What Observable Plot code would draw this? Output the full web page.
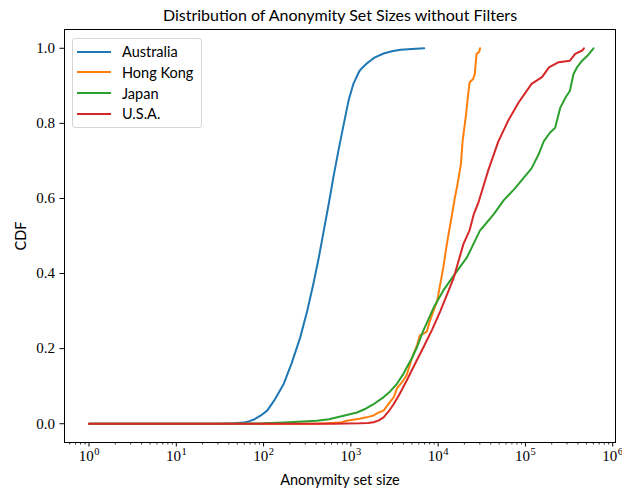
<!DOCTYPE html>
<html>
<head>
<meta charset="utf-8">
<script src="https://cdn.jsdelivr.net/npm/d3@7"></script>
<script src="https://cdn.jsdelivr.net/npm/@observablehq/plot@0.6"></script>
<style>
  html, body { margin: 0; padding: 0; background: #fff; }
  #wrap { position: relative; width: 622px; height: 490px; overflow: hidden; }
  .lbl { position: absolute; font-family: Lato, "DejaVu Sans", sans-serif; color: #000; white-space: nowrap; }
  #title { left: 340px; top: 14px; transform: translate(-50%, -50%); font-size: 16px; }
  #xlabel { left: 340px; top: 479px; transform: translate(-50%, -50%); font-size: 14.5px; }
  #ylabel { left: 20px; top: 236px; transform: translate(-50%, -50%) rotate(-90deg); font-size: 14.5px; }
  #legend { position: absolute; left: 72px; top: 38px; width: 130px; height: 90px; border: 1px solid #d5d5d5; border-radius: 3px; background: rgba(255,255,255,0.8); box-sizing: border-box; }
  .row { position: absolute; left: 0; height: 20px; display: flex; align-items: center; font-family: Lato, "DejaVu Sans", sans-serif; font-size: 14.5px; }
  .row svg { margin-left: 4px; margin-right: 11px; }
</style>
</head>
<body>
<div id="wrap">
  <div id="chart"></div>
  <div class="lbl" id="title">Distribution of Anonymity Set Sizes without Filters</div>
  <div class="lbl" id="xlabel">Anonymity set size</div>
  <div class="lbl" id="ylabel">CDF</div>
  <div id="legend"></div>
</div>
<script>
const countries = ["Australia", "Hong Kong", "Japan", "U.S.A."];
const colors = ["#1f77b4", "#ff7f0e", "#2ca02c", "#d62728"];

const australiaSize = [1, 32, 45, 59, 69, 79, 93, 110, 135, 170, 209, 263, 316, 372, 427, 490, 562, 631, 724, 832, 944, 1072, 1175, 1259, 1380, 1514, 1700, 1862, 2371, 2951, 3715, 5012, 6918];
const australiaCdf  = [0, 0, 0.001, 0.003, 0.007, 0.012, 0.022, 0.035, 0.065, 0.106, 0.16, 0.23, 0.30, 0.373, 0.44, 0.515, 0.59, 0.657, 0.73, 0.80, 0.862, 0.906, 0.926, 0.94, 0.95, 0.959, 0.968, 0.975, 0.986, 0.992, 0.996, 0.998, 1.0];

const hongKongSize = [1, 400, 760, 890, 1260, 1510, 1820, 2090, 2370, 2690, 3090, 3390, 3980, 4365, 5010, 5750, 6170, 6760, 7410, 7940, 8510, 9770, 10590, 11480, 12590, 13800, 15140, 15490, 16600, 18200, 19050, 20890, 21880, 22910, 25120, 26300, 26920, 27540, 29510, 30200];
const hongKongCdf  = [0, 0, 0.003, 0.008, 0.013, 0.017, 0.022, 0.03, 0.035, 0.052, 0.07, 0.095, 0.115, 0.13, 0.175, 0.21, 0.235, 0.24, 0.245, 0.27, 0.29, 0.328, 0.373, 0.417, 0.479, 0.532, 0.586, 0.60, 0.636, 0.69, 0.752, 0.824, 0.869, 0.909, 0.918, 0.931, 0.96, 0.985, 0.99, 1.0];

const japanSize = [1, 32, 100, 170, 282, 407, 562, 759, 1000, 1175, 1479, 1820, 2291, 2818, 3388, 3981, 4365, 5012, 5754, 6761, 8913, 11480, 15140, 21380, 30200, 31620, 43650, 56230, 75860, 117500, 141300, 162200, 190500, 218800, 251200, 288400, 323600, 354800, 389000, 446700, 512900, 555900, 602600];
const japanCdf  = [0, 0, 0.001, 0.003, 0.006, 0.008, 0.012, 0.019, 0.026, 0.03, 0.04, 0.052, 0.068, 0.086, 0.107, 0.132, 0.15, 0.175, 0.205, 0.248, 0.31, 0.355, 0.395, 0.443, 0.515, 0.52, 0.559, 0.595, 0.627, 0.68, 0.717, 0.752, 0.775, 0.788, 0.842, 0.869, 0.887, 0.931, 0.949, 0.967, 0.98, 0.99, 1.0];

const usaSize = [1, 631, 1259, 1585, 1820, 2090, 2371, 2692, 3090, 3631, 4365, 5370, 6761, 8511, 10590, 12590, 15140, 19500, 22910, 25700, 28840, 37150, 48980, 63100, 83180, 117500, 154900, 186200, 239900, 323600, 371500, 446700, 467700];
const usaCdf  = [0, 0, 0.001, 0.002, 0.004, 0.009, 0.017, 0.032, 0.052, 0.08, 0.115, 0.157, 0.203, 0.25, 0.30, 0.343, 0.39, 0.479, 0.515, 0.559, 0.588, 0.672, 0.752, 0.806, 0.855, 0.905, 0.923, 0.949, 0.963, 0.967, 0.985, 0.994, 1.0];

const xTicks = [1, 10, 100, 1000, 10000, 100000, 1000000];
const xTickExponents = ["0", "1", "2", "3", "4", "5", "6"];
const yTicks = [0, 0.2, 0.4, 0.6, 0.8, 1.0];
const yTickLabels = ["0.0", "0.2", "0.4", "0.6", "0.8", "1.0"];

const series = [
  [australiaSize, australiaCdf],
  [hongKongSize, hongKongCdf],
  [japanSize, japanCdf],
  [usaSize, usaCdf]
];
const rows = series.flatMap(([xs, ys], i) => xs.map((s, j) => ({country: countries[i], size: s, cdf: ys[j]})));

const xDomain = [Math.pow(10, -0.281), Math.pow(10, 6.032)];
const minorTicks = [];
for (let e = -1; e <= 6; e++) for (let m = 2; m <= 9; m++) {
  const v = m * Math.pow(10, e);
  if (v >= xDomain[0] && v <= xDomain[1]) minorTicks.push(v);
}
const xFmt = d => "10^" + xTickExponents[xTicks.indexOf(d)];
const yFmt = d => yTickLabels[yTicks.indexOf(d)];

const chart = Plot.plot({
  width: 622,
  height: 490,
  marginLeft: 64,
  marginRight: 7,
  marginTop: 29,
  marginBottom: 48,
  style: {fontFamily: "'Liberation Serif', 'DejaVu Serif', serif", fontSize: "15px", background: "#fff", color: "#000"},
  x: {type: "log", domain: xDomain},
  y: {domain: [-0.05, 1.05]},
  color: {domain: countries, range: colors},
  marks: [
    Plot.line(rows, {x: "size", y: "cdf", z: "country", stroke: "country", strokeWidth: 2, curve: "linear"}),
    Plot.axisX({ticks: minorTicks, tickSize: 2.5, tickFormat: () => "", label: null, strokeWidth: 0.8}),
    Plot.axisX({ticks: xTicks, tickSize: 4.5, tickPadding: 3, tickFormat: xFmt, label: null, fontSize: 15}),
    Plot.axisY({ticks: yTicks, tickSize: 4.5, tickPadding: 5, tickFormat: yFmt, label: null, fontSize: 15}),
    Plot.frame({stroke: "#000", strokeWidth: 1})
  ]
});
document.getElementById("chart").appendChild(chart);

// turn "10^k" tick labels into base + raised exponent
const NS = "http://www.w3.org/2000/svg";
chart.querySelectorAll('g[aria-label="x-axis tick label"] text').forEach(t => {
  const txt = t.textContent;
  if (!txt.includes("^")) return;
  const [base, exp] = txt.split("^");
  t.textContent = "";
  const b = document.createElementNS(NS, "tspan");
  b.textContent = base;
  const e = document.createElementNS(NS, "tspan");
  e.textContent = exp;
  e.setAttribute("font-size", "10.5");
  e.setAttribute("dy", "-0.5em");
  e.setAttribute("dx", "0.5");
  t.appendChild(b);
  t.appendChild(e);
});

const legend = document.getElementById("legend");
const rowCenters = [12.7, 33.3, 54, 74.7];
countries.forEach((c, i) => {
  const r = document.createElement("div");
  r.className = "row";
  r.style.top = (rowCenters[i] - 10) + "px";
  r.innerHTML = `<svg width="34" height="6"><line x1="0" y1="3" x2="34" y2="3" stroke="${colors[i]}" stroke-width="2"/></svg><span>${c}</span>`;
  legend.appendChild(r);
});
</script>
</body>
</html>
